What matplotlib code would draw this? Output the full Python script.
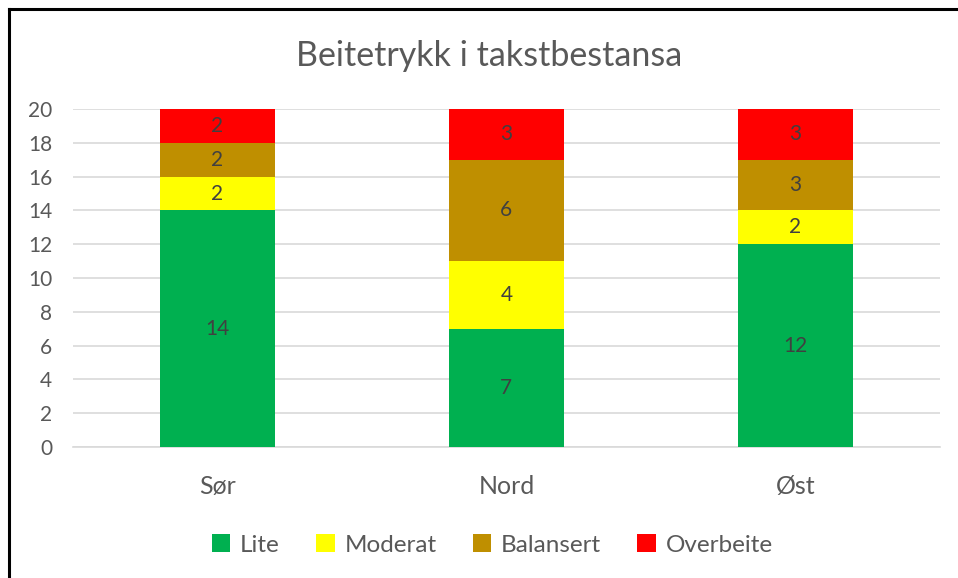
import numpy as np
import matplotlib.pyplot as plt

regions = ['Sør', 'Nord', 'Øst']
series_names = ['Lite', 'Moderat', 'Balansert', 'Overbeite']
lite = [14, 7, 12]
moderat = [2, 4, 2]
balansert = [2, 6, 3]
overbeite = [2, 3, 3]
colors = ['#00B050', '#FFFF00', '#BF8F00', '#FF0000']

plt.rcParams['font.family'] = ['Lato', 'DejaVu Sans']

fig = plt.figure(figsize=(9.58, 5.78), dpi=100)
ax = fig.add_axes([0.0762, 0.2266, 0.9048, 0.5848])

x = np.arange(len(regions))
bottom = np.zeros(len(regions))
for name, vals, col in zip(series_names, [lite, moderat, balansert, overbeite], colors):
    bars = ax.bar(x, vals, width=0.4, bottom=bottom, color=col, label=name, zorder=3)
    ax.bar_label(bars, labels=[str(v) for v in vals], label_type='center',
                 color='#404040', fontsize=15)
    bottom += np.array(vals)

ax.set_xlim(-0.5, 2.5)
ax.set_ylim(0, 20)
ax.set_yticks(range(0, 21, 2))
ax.set_xticks(x)
ax.set_xticklabels(regions, fontsize=18, color='#595959')
ax.tick_params(axis='y', labelsize=15, labelcolor='#595959', length=0, pad=15)
ax.tick_params(axis='x', length=0, pad=20)
ax.grid(axis='y', color='#D9D9D9', lw=1.2, zorder=0)
for s in ['top', 'right', 'left']:
    ax.spines[s].set_visible(False)
ax.spines['bottom'].set_color('#D9D9D9')
ax.spines['bottom'].set_linewidth(1.2)

fig.text(0.511, 0.903, 'Beitetrykk i takstbestansa', ha='center', va='center',
         fontsize=24.5, color='#595959')

fig.legend(loc='center', bbox_to_anchor=(0.514, 0.057), ncol=4, frameon=False,
           fontsize=17.5, labelcolor='#595959', handlelength=0.75, handleheight=0.75,
           handletextpad=0.4, columnspacing=1.5)

# outer frame: only top and left edges visible
fig.add_artist(plt.Line2D([0.0094, 0.0094], [0, 0.984], color='black', lw=2.2,
                          transform=fig.transFigure))
fig.add_artist(plt.Line2D([0.0094, 1], [0.984, 0.984], color='black', lw=2.2,
                          transform=fig.transFigure))

fig.savefig('out.png', dpi=100)
